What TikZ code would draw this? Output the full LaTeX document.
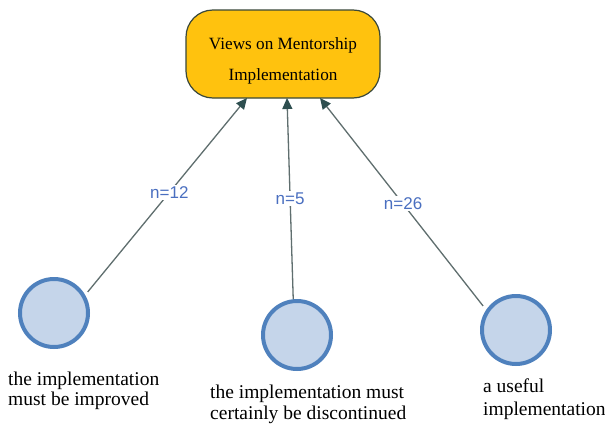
\documentclass[tikz,border=0pt]{standalone}
\usepackage{fontspec}
\setmainfont{Liberation Serif}
\newfontfamily\labelfont{Liberation Sans}
\usetikzlibrary{arrows.meta,calc}
\definecolor{boxfill}{RGB}{255,194,14}
\definecolor{boxline}{RGB}{58,72,58}
\definecolor{circfill}{RGB}{197,213,234}
\definecolor{circline}{RGB}{79,129,189}
\definecolor{conline}{RGB}{95,110,110}
\definecolor{arrowc}{RGB}{46,79,80}
\definecolor{nblue}{RGB}{74,111,192}
\tikzset{
  topbox/.style={draw=boxline, line width=1.2pt, fill=boxfill, rounded corners=27pt,
    minimum width=194pt, minimum height=88pt, inner sep=0pt},
  boxtext/.style={align=center, inner sep=0pt, font=\fontsize{17.2}{31}\selectfont},
  circ/.style={circle, draw=circline, line width=4pt, fill=circfill, minimum size=68pt, inner sep=0pt},
  conn/.style={draw=conline, line width=1.3pt, -{Triangle[length=11pt,width=10pt,color=arrowc]}},
  nlabel/.style={fill=white, text=nblue, inner sep=1.5pt, font=\labelfont\fontsize{17}{17}\selectfont},
  caption/.style={anchor=north west, align=left, inner sep=0pt, text=black}
}
\begin{document}
\begin{tikzpicture}[x=1pt,y=-1pt]
\useasboundingbox[fill=white] (0,0) rectangle (605,423);
\node[topbox] (box) at (283,54) {};
\node[boxtext] (boxlabel) at (283,61) {Views on Mentorship\\Implementation};
\coordinate (a1) at (247,98);
\coordinate (a2) at (287,98);
\coordinate (a3) at (320,98);
\node[circ] (c1) at (54,313) {};
\node[circ] (c2) at (297,335) {};
\node[circ] (c3) at (516,330) {};
\draw[conn, shorten <=4pt] (c1.30) -- node[nlabel, pos=0.52] {n=12} (a1);
\draw[conn] (c2.96) -- node[nlabel] {n=5} (a2);
\draw[conn, shorten <=5pt] (c3.146) -- node[nlabel] {n=26} (a3);
\node[caption, font=\fontsize{19.5}{20}\selectfont] (t1) at (8,371.5) {the implementation\\must be improved};
\node[caption, font=\fontsize{19.5}{21}\selectfont] (t2) at (210,384.5) {the implementation must\\certainly be discontinued};
\node[caption, font=\fontsize{19.5}{23}\selectfont] (t3) at (483,378.5) {a useful\\implementation};
\end{tikzpicture}
\end{document}
